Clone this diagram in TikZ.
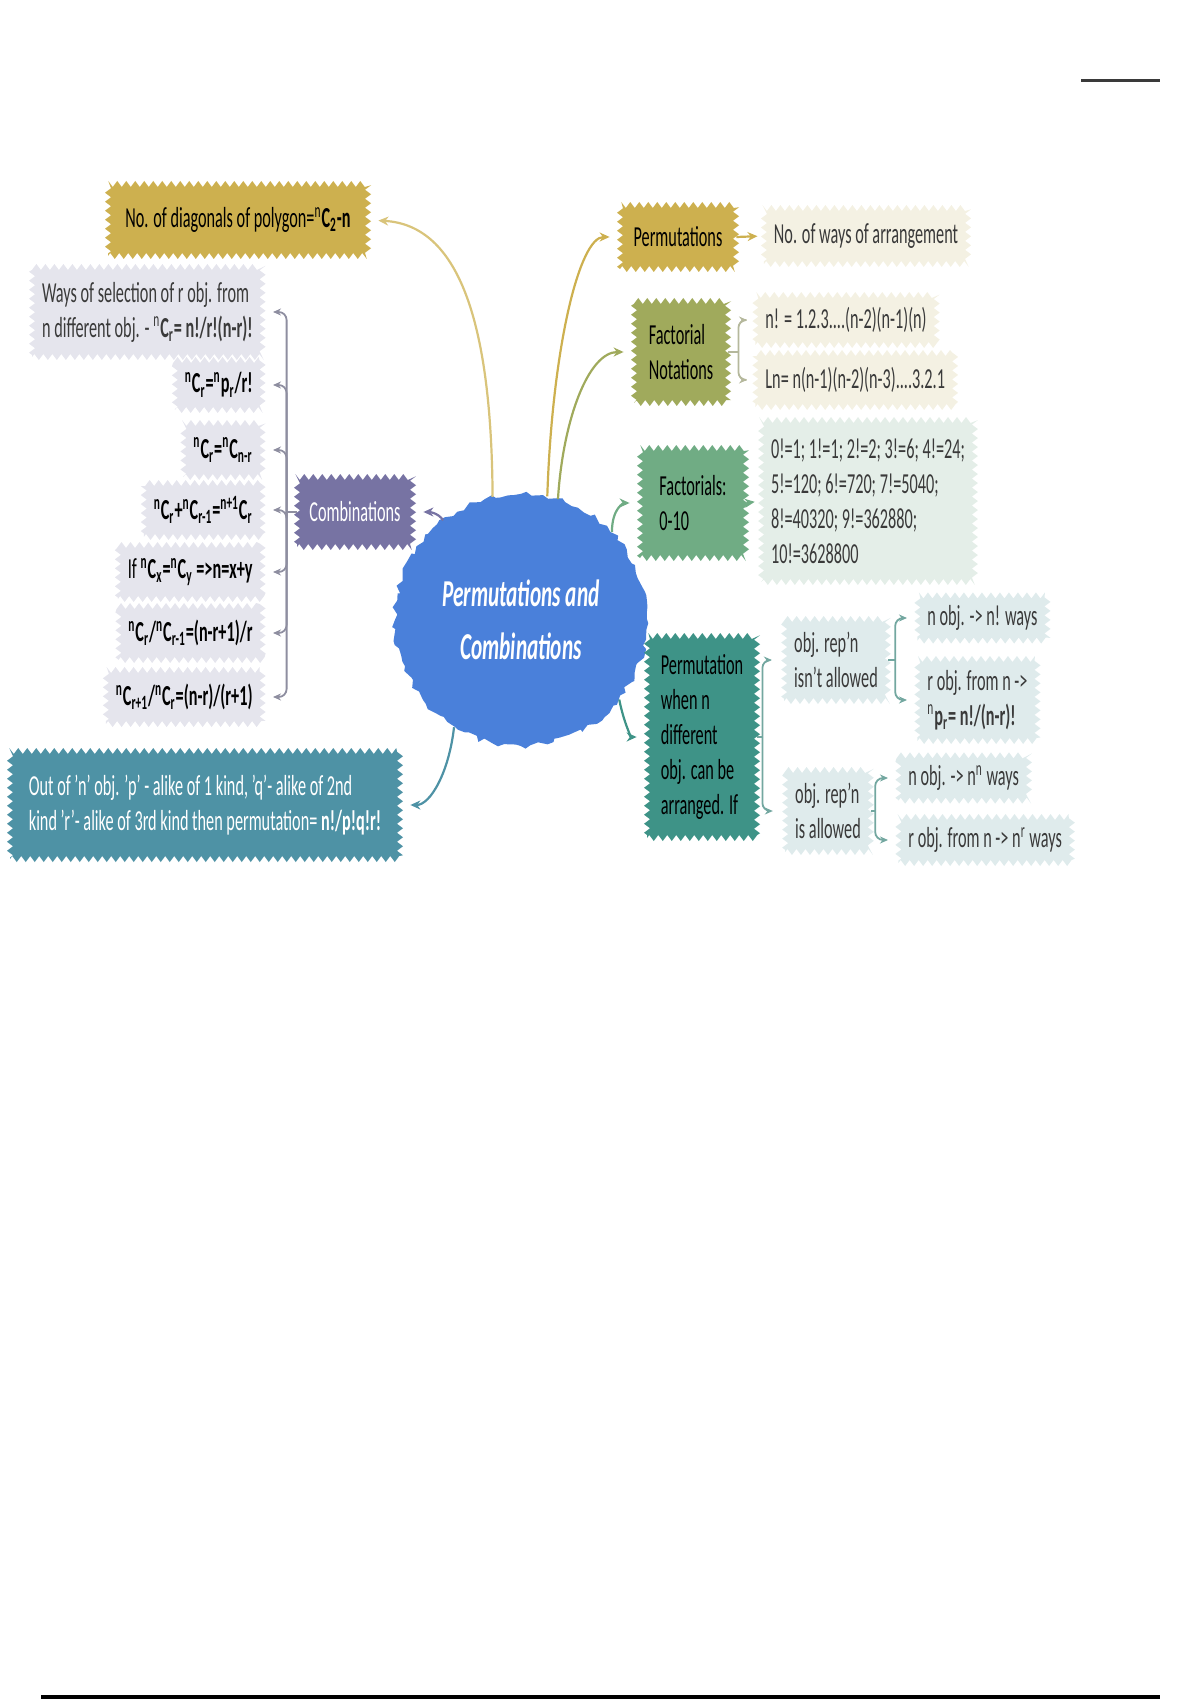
\documentclass[tikz,border=0pt]{standalone}
\usepackage{fontspec}
\setmainfont[FakeStretch=0.56]{Carlito}
\usetikzlibrary{arrows.meta,decorations.pathmorphing}

\definecolor{pcgold}{HTML}{CDB04F}
\definecolor{pcgrey}{HTML}{E5E5ED}
\definecolor{pcpurple}{HTML}{7773A3}
\definecolor{pcblue}{HTML}{4A80DA}
\definecolor{pcteal}{HTML}{4E92A5}
\definecolor{pcolive}{HTML}{A0AA5C}
\definecolor{pcgreen}{HTML}{70AC84}
\definecolor{pcsea}{HTML}{3E9387}
\definecolor{pccream}{HTML}{F4F1E3}
\definecolor{pcmint}{HTML}{E4EEE8}
\definecolor{pcice}{HTML}{DFEBEC}
\definecolor{pcink}{HTML}{3A3A3A}
\definecolor{pcbrk}{HTML}{8E8EA0}
\definecolor{pcbrkol}{HTML}{B5B89C}
\definecolor{pcbrksea}{HTML}{73A7A0}

\newcommand{\sps}[1]{\textsuperscript{#1}}
\newcommand{\sbs}[1]{\textsubscript{#1}}

\begin{document}
\begin{tikzpicture}[x=0.5pt,y=-0.5pt,
    every node/.style={font=\fontsize{14.5}{17.5}\selectfont},
    jag/.style={decorate, decoration={zigzag, segment length=4.5pt, amplitude=1.5pt}},
    topic/.style={jag, fill=#1, align=left, inner sep=5pt},
    leaf/.style={jag, fill=#1, text=pcink, align=left, inner sep=5pt},
    link/.style={draw=#1, line width=1.1pt, -{Stealth[length=5pt,width=4.5pt]}, shorten >=5pt},
    brk/.style={draw=#1, line width=0.9pt, rounded corners=4pt, -{Stealth[length=4pt,width=3.5pt]}, shorten >=5pt},
    stub/.style={draw=#1, line width=0.9pt}
  ]
    \useasboundingbox (0,0) rectangle (1200,1700);

    % centre topic
    \pgfmathsetseed{11}
    \node[circle, fill=pcblue, minimum size=126pt, decorate,
          decoration={random steps, segment length=3pt, amplitude=1.5pt},
          text=white, align=center,
          font=\fontsize{19}{26.5}\selectfont\bfseries\itshape] (cen) at (521,620)
          {Permutations and\\Combinations};

    % left side
    \node[topic=pcgold, minimum width=130pt, minimum height=36pt] (diag) at (238,220)
          {No. of diagonals of polygon=\sps{n}\textbf{C\sbs{2}-n}};
    \node[leaf=pcgrey, anchor=east, minimum width=112pt, minimum height=45pt] (ways) at (263,312)
          {Ways of selection of r obj. from\\n different obj. - \sps{n}\textbf{C\sbs{r}= n!/r!(n-r)!}};
    \node[leaf=pcgrey, anchor=east, minimum height=25pt, text=black] (cA) at (263,385)
          {\bfseries\sps{n}C\sbs{r}=\sps{n}p\sbs{r}/r!};
    \node[leaf=pcgrey, anchor=east, minimum height=27pt, text=black] (cB) at (263,450)
          {\bfseries\sps{n}C\sbs{r}=\sps{n}C\sbs{n-r}};
    \node[leaf=pcgrey, anchor=east, minimum height=27pt, text=black] (cC) at (263,510)
          {\bfseries\sps{n}C\sbs{r}+\sps{n}C\sbs{r-1}=\sps{n+1}C\sbs{r}};
    \node[leaf=pcgrey, anchor=east, minimum height=27pt, text=black] (cD) at (263,572)
          {If \bfseries\sps{n}C\sbs{x}=\sps{n}C\sbs{y} =>n=x+y};
    \node[leaf=pcgrey, anchor=east, minimum height=27pt, text=black] (cE) at (263,633)
          {\bfseries\sps{n}C\sbs{r}/\sps{n}C\sbs{r-1}=(n-r+1)/r};
    \node[leaf=pcgrey, anchor=east, minimum height=27pt, text=black] (cF) at (263,697)
          {\bfseries\sps{n}C\sbs{r+1}/\sps{n}C\sbs{r}=(n-r)/(r+1)};
    \node[topic=pcpurple, text=white, minimum width=58pt, minimum height=35pt] (comb) at (355,512)
          {Combinations};
    \node[topic=pcteal, text=white, minimum width=195pt, minimum height=54pt] (outof) at (205,805)
          {Out of 'n' obj. 'p' - alike of 1 kind, 'q'- alike of 2nd\\kind 'r'- alike of 3rd kind then permutation= \textbf{n!/p!q!r!}};

    % right side
    \node[topic=pcgold, minimum width=58pt, minimum height=32pt] (perm) at (678,237) {Permutations};
    \node[leaf=pccream, minimum width=99pt, minimum height=28pt] (arr) at (866,236) {No. of ways of arrangement};
    \node[topic=pcolive, minimum width=47pt, minimum height=51pt] (fnot) at (681,352) {Factorial\\Notations};
    \node[leaf=pccream, anchor=west, minimum height=25pt] (nfac) at (755,320) {n! = 1.2.3....(n-2)(n-1)(n)};
    \node[leaf=pccream, anchor=west, minimum height=27pt] (lnfac) at (755,380) {Ln= n(n-1)(n-2)(n-3)....3.2.1};
    \node[topic=pcgreen, minimum width=53pt, minimum height=55pt] (fact) at (693,503) {Factorials:\\0-10};
    \node[leaf=pcmint, minimum width=95pt, minimum height=81pt] (fval) at (868,501)
          {0!=1; 1!=1; 2!=2; 3!=6; 4!=24;\\5!=120; 6!=720; 7!=5040;\\8!=40320; 9!=362880;\\10!=3628800};
    \node[topic=pcsea, minimum width=55pt, minimum height=101pt] (pwhen) at (702,737)
          {Permutation\\ when n\\different\\obj. can be\\arranged. If};
    \node[leaf=pcice, minimum width=46pt, minimum height=41pt] (norep) at (836,660) {obj. rep'n\\isn't allowed};
    \node[leaf=pcice, minimum width=40pt, minimum height=41pt] (rep) at (828,811) {obj. rep'n\\is allowed};
    \node[leaf=pcice, anchor=west, minimum height=22pt] (norepA) at (917,618) {n obj. -> n! ways};
    \node[leaf=pcice, anchor=west, minimum height=41pt] (norepB) at (917,700)
          {r obj. from n ->\\\sps{n}\textbf{p\sbs{r}= n!/(n-r)!}};
    \node[leaf=pcice, anchor=west, minimum height=22pt] (repA) at (898,778) {n obj. -> n\sps{n} ways};
    \node[leaf=pcice, anchor=west, minimum height=23pt] (repB) at (898,840) {r obj. from n -> n\sps{r} ways};

    % links from the centre
    \draw[link=pcgold!75!white] (cen.103) .. controls +(-1,-176) and +(90,5) .. (diag.east);
    \draw[link=pcgold] (cen.78) .. controls +(5,-150) and +(-40,0) .. (perm.west);
    \draw[link=pcolive] (cen.73) .. controls +(5,-80) and +(-45,0) .. (fnot.west);
    \draw[link=pcgreen] (cen.44) .. controls +(0,-25) and +(-15,0) .. (fact.west);
    \draw[link=pcsea] (cen.-39) .. controls +(5,25) and +(-15,0) .. (pwhen.west);
    \draw[link=pcpurple] (cen.128) .. controls +(-5,-8) and +(15,0) .. (comb.east);
    \draw[link=pcteal] (cen.238) .. controls +(-5,45) and +(30,0) .. (outof.east);
    \draw[link=pcgold, shorten >=3pt] (perm.east) -- (arr.west);
    \draw[link=pcgreen, shorten >=3pt] (fact.east) -- (fval.west);

    % brackets
    \draw[stub=pcbrk] (comb.west) -- ++(-10,0) coordinate (cbr);
    \foreach \leafnode in {ways,cA,cB,cC,cD,cE,cF}
        \draw[brk=pcbrk] (cbr) |- (\leafnode.east);
    \draw[stub=pcbrkol] (fnot.east) -- ++(10,0) coordinate (fbr);
    \foreach \leafnode in {nfac,lnfac}
        \draw[brk=pcbrkol, shorten >=4pt] (fbr) |- (\leafnode.west);
    \draw[stub=pcbrksea] (pwhen.east) -- ++(5,0) coordinate (pbr);
    \foreach \leafnode in {norep,rep}
        \draw[brk=pcbrksea, shorten >=6pt] (pbr) |- (\leafnode.west);
    \draw[stub=pcbrksea] (norep.east) -- ++(7,0) coordinate (nbr);
    \foreach \leafnode in {norepA,norepB}
        \draw[brk=pcbrksea] (nbr) |- (\leafnode.west);
    \draw[stub=pcbrksea] (rep.east) -- ++(4,0) coordinate (rbr);
    \foreach \leafnode in {repA,repB}
        \draw[brk=pcbrksea] (rbr) |- (\leafnode.west);

    % page rules
    \draw[line width=1.5pt, pcink] (1081,81) -- (1160,81);
    \draw[line width=2pt, black] (41,1697) -- (1160,1697);
\end{tikzpicture}
\end{document}
